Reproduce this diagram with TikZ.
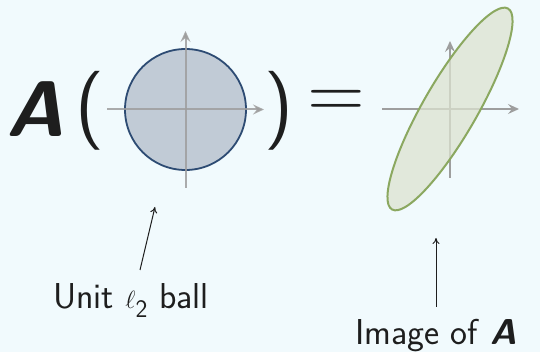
\documentclass[tikz,border=0pt]{standalone}
\usepackage{fontspec}
\usetikzlibrary{arrows.meta,shapes.geometric}
\definecolor{bg}{HTML}{F1FAFD}
\definecolor{ballfill}{HTML}{C1CBD6}
\definecolor{balledge}{HTML}{2D4B73}
\definecolor{ellfill}{HTML}{DCE3D0}
\definecolor{elledge}{HTML}{8BA860}
\definecolor{axisgray}{HTML}{9E9E9E}
\definecolor{ink}{HTML}{1E1E1E}
\begin{document}
\begin{tikzpicture}[x=1pt,y=1pt,
  axisline/.style={draw=axisgray, line width=2pt, -{Stealth[length=11pt,width=10pt,inset=4pt]}},
  big/.style={font=\sffamily\fontsize{79}{80}\selectfont, text=ink, inner sep=0pt},
  lbl/.style={font=\sffamily\fontsize{36}{38}\selectfont, text=ink, inner sep=0pt, anchor=base},
  pointer/.style={draw=ink, line width=1pt, -{To[length=6pt,width=7pt]}}]
\fill[bg] (0,0) rectangle (540,352);
\useasboundingbox (0,0) rectangle (540,352);

% left: unit ball
\node[circle, minimum size=121pt, inner sep=0pt, draw=balledge, fill=ballfill, line width=1.8pt] (ball) at (185.5,242.5) {};
\coordinate (bxl) at (107,242.5);
\coordinate (bxr) at (264,242.5);
\coordinate (byb) at (185.5,164);
\coordinate (byt) at (185.5,321);
\draw[axisline, draw opacity=0.85] (bxl) -- (bxr);
\draw[axisline, draw opacity=0.85] (byb) -- (byt);

% right: image ellipse
\coordinate (ixl) at (382,243);
\coordinate (ixr) at (519,243);
\coordinate (iyb) at (450,174);
\coordinate (iyt) at (450,311);
\draw[axisline] (ixl) -- (ixr);
\draw[axisline] (iyb) -- (iyt);
\node[ellipse, minimum width=232pt, minimum height=54pt, inner sep=0pt, rotate=60,
      draw=elledge, fill=ellfill, fill opacity=0.75, line width=2pt] (img) at (450,243) {};

% equation symbols
\node[big, anchor=base] (A) at (35,215) {\bfseries\itshape A};
\node[big] (lp) at (90,241) {(};
\node[big] (rp) at (279,241) {)};
\node[big] (eq) at (336.5,247.5) {=};

% labels and pointers
\node[lbl] (unit) at (131,43) {Unit $\ell_{\mathsf{2}}$ ball};
\node[lbl] (imgl) at (436,7) {Image of \textbf{\textit{A}}};
\coordinate (p1s) at (140,82);
\coordinate (p1e) at (155,145);
\coordinate (p2s) at (436,45);
\coordinate (p2e) at (436,114);
\draw[pointer] (p1s) -- (p1e);
\draw[pointer] (p2s) -- (p2e);
\end{tikzpicture}
\end{document}
